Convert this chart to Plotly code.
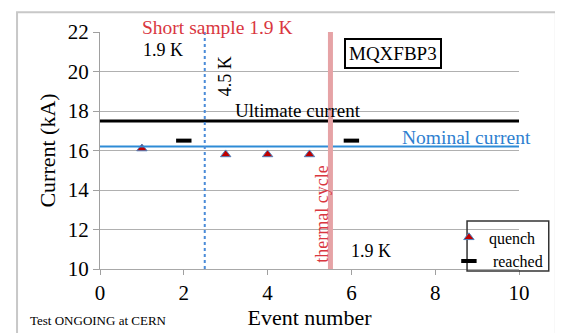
import plotly.graph_objects as go

quench_x = [1, 3, 4, 5]
quench_y = [16.1, 15.8, 15.8, 15.8]
reached_x = [2, 6]
reached_y = [16.5, 16.5]
ultimate_current = 17.5
nominal_current = 16.2
temp_change_x = 2.5
thermal_cycle_x = 5.5
x_ticks = [0, 2, 4, 6, 8, 10]
y_ticks = [10, 12, 14, 16, 18, 20, 22]

FONT = "Times New Roman, Liberation Serif, serif"

fig = go.Figure()
fig.add_trace(go.Scatter(
    x=quench_x, y=quench_y, mode="markers", name="quench",
    marker=dict(symbol="triangle-up", size=9, color="#c00000",
                line=dict(color="#4f81bd", width=1)),
))
fig.add_trace(go.Scatter(
    x=reached_x, y=reached_y, mode="markers", name=" reached",
    marker=dict(symbol="line-ew", size=11, color="black",
                line=dict(color="black", width=4)),
))

shapes = [
    dict(type="line", xref="paper", x0=0, x1=1, yref="y",
         y0=ultimate_current, y1=ultimate_current, line=dict(color="black", width=3)),
    dict(type="line", xref="paper", x0=0, x1=1, yref="y",
         y0=nominal_current, y1=nominal_current, line=dict(color="#2e8bd6", width=2)),
    dict(type="line", xref="x", x0=temp_change_x, x1=temp_change_x, yref="paper",
         y0=0, y1=1.01, line=dict(color="#4a8bd8", width=2, dash="dot")),
    dict(type="line", xref="x", x0=thermal_cycle_x, x1=thermal_cycle_x, yref="paper",
         y0=0, y1=1, line=dict(color="#e6a3a6", width=5)),
    dict(type="rect", xref="paper", yref="paper", x0=-0.198, x1=1.088,
         y0=-0.4, y1=1.083, line=dict(color="#c8c8c8", width=2), layer="below"),
    # legend frame
    dict(type="rect", xref="paper", yref="paper", x0=0.876, x1=1.071,
         y0=-0.008, y1=0.203, line=dict(color="#333333", width=1.5), layer="above"),
]

annotations = [
    dict(x=0.28, y=1.02, xref="paper", yref="paper", text="Short sample 1.9 K",
         showarrow=False, font=dict(family=FONT, size=19.5, color="#d9373f"),
         xanchor="center", yanchor="middle"),
    dict(x=1.5, y=21.1, xref="x", yref="y", text="1.9 K", showarrow=False,
         font=dict(family=FONT, size=18, color="black")),
    dict(x=3.0, y=19.75, xref="x", yref="y", text="4.5 K", showarrow=False,
         textangle=-90, font=dict(family=FONT, size=18, color="black")),
    dict(x=4.73, y=18.02, xref="x", yref="y", text="Ultimate current", showarrow=False,
         font=dict(family=FONT, size=19, color="black")),
    dict(x=8.74, y=16.68, xref="x", yref="y", text="Nominal current", showarrow=False,
         font=dict(family=FONT, size=19.5, color="#2e7fd0")),
    dict(x=7.0, y=20.9, xref="x", yref="y", text="MQXFBP3", showarrow=False,
         font=dict(family=FONT, size=19, color="black"),
         bordercolor="black", borderwidth=2, borderpad=3, bgcolor="white"),
    dict(x=5.3, y=12.75, xref="x", yref="y", text="thermal cycle", showarrow=False,
         textangle=-90, font=dict(family=FONT, size=18, color="#d9373f")),
    dict(x=6.47, y=10.9, xref="x", yref="y", text="1.9 K", showarrow=False,
         font=dict(family=FONT, size=18, color="black")),
    dict(x=-0.172, y=-0.216, xref="paper", yref="paper", text="Test ONGOING at CERN",
         showarrow=False, xanchor="left", yanchor="middle",
         font=dict(family=FONT, size=13, color="black")),
]

fig.update_layout(
    width=555, height=325,
    margin=dict(l=92, r=44, t=22, b=62),
    paper_bgcolor="white", plot_bgcolor="white",
    font=dict(family=FONT, color="black"),
    showlegend=True,
    legend=dict(x=1.069, y=0.205, xanchor="right", yanchor="top",
                borderwidth=0, bgcolor="rgba(0,0,0,0)",
                font=dict(family=FONT, size=16), tracegroupgap=0,
                itemwidth=30),
    shapes=shapes,
    annotations=annotations,
    xaxis=dict(range=[0, 10], tickvals=x_ticks, showgrid=False, zeroline=False,
               showline=True, linecolor="#a8a8a8", ticks="outside", ticklen=5,
               tickcolor="#a0a0a0",
               tickfont=dict(family=FONT, size=21, color="black"),
               title=dict(text="Event number", font=dict(family=FONT, size=22), standoff=0)),
    yaxis=dict(range=[10, 22], tickvals=y_ticks, showgrid=True, gridcolor="#b0b0b0",
               gridwidth=1, zeroline=False, showline=True, linecolor="#a0a0a0",
               ticks="outside", ticklen=6, tickcolor="#a0a0a0",
               tickfont=dict(family=FONT, size=21, color="black"),
               title=dict(text="Current (kA)", font=dict(family=FONT, size=22), standoff=6)),
)

fig.write_html("out.html")
